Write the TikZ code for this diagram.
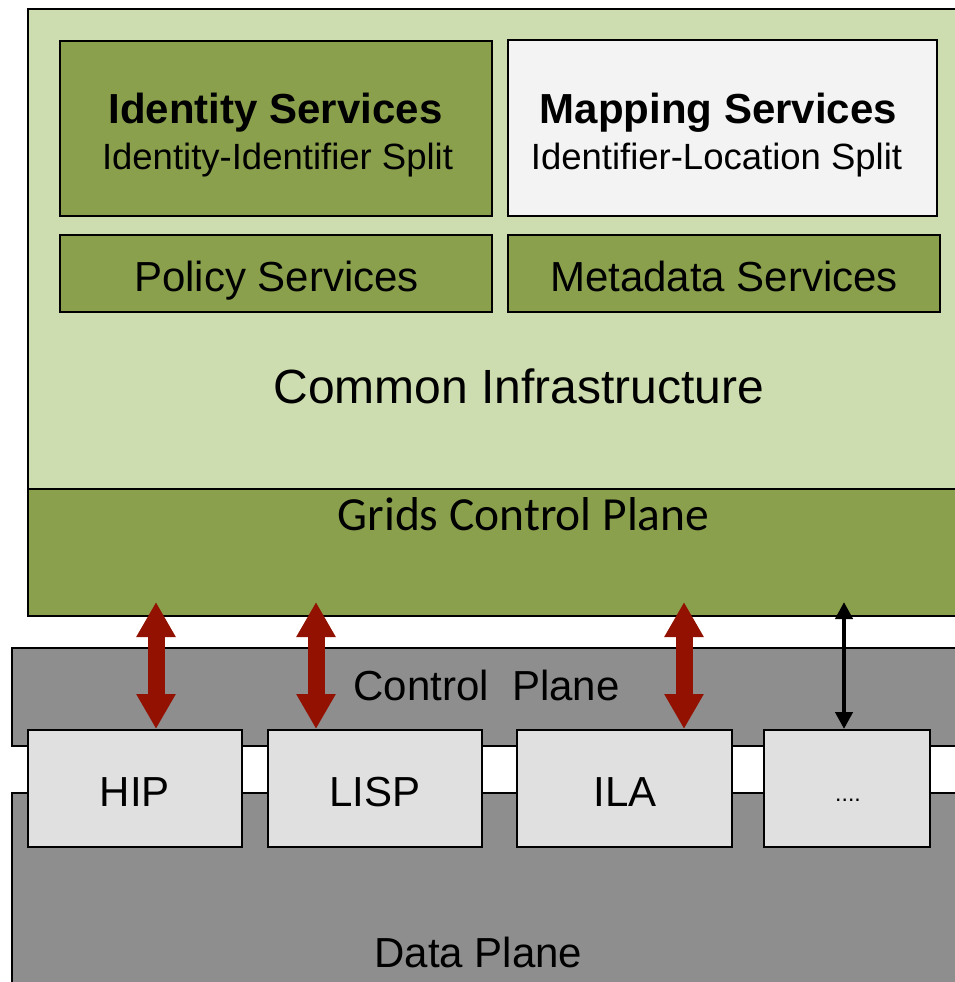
\documentclass[tikz,border=0pt]{standalone}
\usepackage{fontspec}
\setmainfont{Liberation Sans}
\newfontfamily\gridsfont{Carlito}
\usetikzlibrary{arrows.meta}
\definecolor{paleGreen}{HTML}{CEDDAF}
\definecolor{oliveGreen}{HTML}{8AA04C}
\definecolor{planeGray}{HTML}{8E8E8E}
\definecolor{protoGray}{HTML}{E0E0E0}
\definecolor{mapWhite}{HTML}{F3F3F3}
\definecolor{linkRed}{HTML}{931100}
\newcommand{\fsz}[1]{\fontsize{#1}{#1}\selectfont}
\begin{document}
\begin{tikzpicture}[x=1pt,y=-1pt,
  frame/.style={draw=black, line width=2pt, inner sep=0pt},
  svc/.style={frame, fill=oliveGreen},
  proto/.style={frame, fill=protoGray, minimum height=117pt},
  label/.style={anchor=base, inner sep=0pt},
  redlink/.style={draw=linkRed, line width=17pt,
    {Triangle[width=37pt,length=35pt]}-{Triangle[width=37pt,length=35pt]}},
  blacklink/.style={draw=black, line width=4.5pt,
    {Triangle[width=17pt,length=17pt]}-{Triangle[width=17pt,length=17pt]}},
]
\useasboundingbox (0,0) rectangle (955,982);
\clip (0,0) rectangle (955,982);

% Common infrastructure with the grids control plane at its foot
\node[frame, fill=paleGreen, minimum width=947pt, minimum height=607pt] (infra) at (501.5,312.5) {};
\node[frame, fill=oliveGreen, minimum width=947pt, minimum height=127pt] (grids) at (501.5,552.5) {};

% Service boxes
\node[svc, minimum width=432pt, minimum height=175pt] (ident) at (276,128.5) {};
\node[frame, fill=mapWhite, minimum width=429pt, minimum height=176pt] (mapping) at (722.5,128) {};
\node[svc, minimum width=432pt, minimum height=77pt] (policy) at (276,273.5) {};
\node[svc, minimum width=432pt, minimum height=77pt] (meta) at (724,273.5) {};

\node[label, font=\bfseries\fsz{42}] (identT) at (275.5,123) {Identity Services};
\node[label, font=\fsz{36.5}] (identS) at (277.5,169) {Identity-Identifier Split};
\node[label, font=\bfseries\fsz{42}] (mapT) at (718.5,123) {Mapping Services};
\node[label, font=\fsz{36.5}] (mapS) at (716.5,169) {Identifier-Location Split};
\node[label, font=\fsz{42}] (policyT) at (276.5,291) {Policy Services};
\node[label, font=\fsz{42}] (metaT) at (724,291) {Metadata Services};
\node[label, font=\fsz{48}] (infraT) at (519,403) {Common Infrastructure};
\node[label, font=\gridsfont\fsz{47.5}] (gridsT) at (523.5,530) {Grids Control Plane};

% Control and data planes
\node[frame, fill=planeGray, minimum width=963pt, minimum height=98pt] (ctrl) at (493.5,697) {};
\node[frame, fill=planeGray, minimum width=963pt, minimum height=207pt] (data) at (493.5,896.5) {};
\node[label, font=\fsz{42}] (ctrlT) at (486.5,700) {Control\ \ Plane};
\node[label, font=\fsz{42}] (dataT) at (478.5,967) {Data Plane};

% Protocol boxes
\node[proto, minimum width=214pt] (hip) at (135,788.5) {};
\node[proto, minimum width=214pt] (lisp) at (375,788.5) {};
\node[proto, minimum width=215pt] (ila) at (624.5,788.5) {};
\node[proto, minimum width=166pt] (more) at (847,788.5) {};
\node[label, font=\fsz{42}] (hipT) at (135,806) {HIP};
\node[label, font=\fsz{42}] (lispT) at (375,806) {LISP};
\node[label, font=\fsz{42}] (ilaT) at (625,806) {ILA};
\node[label, font=\fsz{23}] (moreT) at (848,801) {....};

% Links between the grids control plane and the protocols
\coordinate (hipTop) at (156,602);
\coordinate (lispTop) at (316,602);
\coordinate (ilaTop) at (684,602);
\coordinate (moreTop) at (844,602);
\draw[redlink] (hipTop) -- (hipTop |- hip.north);
\draw[redlink] (lispTop) -- (lispTop |- lisp.north);
\draw[redlink] (ilaTop) -- (ilaTop |- ila.north);
\draw[blacklink] (moreTop) -- (moreTop |- more.north);
\end{tikzpicture}
\end{document}
